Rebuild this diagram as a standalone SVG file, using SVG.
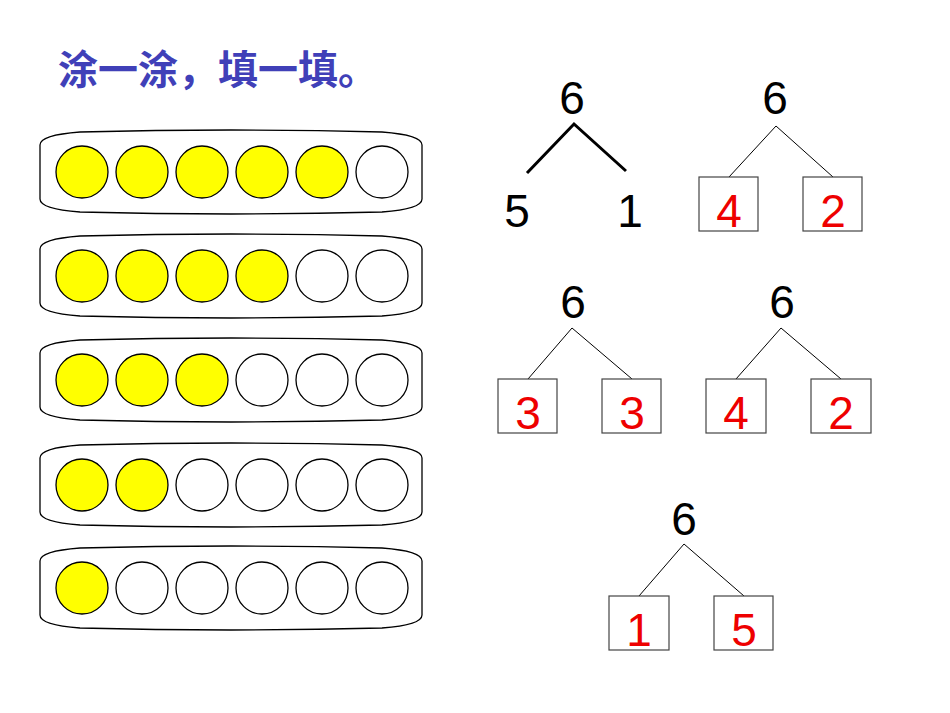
<svg xmlns="http://www.w3.org/2000/svg" width="950" height="713" viewBox="0 0 950 713">
<style>
.t{font-family:"Liberation Sans",Arial,sans-serif;font-size:46px;text-anchor:middle;fill:#000}
.r{fill:#ee0000}
.c{stroke:#000;stroke-width:1.3}
.y{fill:#ffff00}
.w{fill:#fff}
.box{fill:#fff;stroke:#444;stroke-width:1.2}
.ln{stroke:#000;stroke-width:1;fill:none}
.tray{fill:#fff;stroke:#000;stroke-width:1.3}
</style>
<defs>
<path id="tray" class="tray" d="M40,1 Q191,-3 342,1 Q382,4 382,14 L382,68 Q382,78 342,81 Q191,85 40,81 Q0,78 0,68 L0,14 Q0,4 40,1 Z"/>
</defs>
<rect width="950" height="713" fill="#fff"/>
<text x="58" y="84" font-family="'Noto Sans CJK SC',sans-serif" font-weight="bold" font-size="40" fill="#4040b8">涂一涂，填一填。</text>
<g id="row1" transform="translate(40,131)"><use href="#tray"/>
<circle class="c y" cx="42" cy="41" r="26"/><circle class="c y" cx="102" cy="41" r="26"/><circle class="c y" cx="162" cy="41" r="26"/><circle class="c y" cx="222" cy="41" r="26"/><circle class="c y" cx="282" cy="41" r="26"/><circle class="c w" cx="342" cy="41" r="26"/></g>
<g id="row2" transform="translate(40,235)"><use href="#tray"/>
<circle class="c y" cx="42" cy="41" r="26"/><circle class="c y" cx="102" cy="41" r="26"/><circle class="c y" cx="162" cy="41" r="26"/><circle class="c y" cx="222" cy="41" r="26"/><circle class="c w" cx="282" cy="41" r="26"/><circle class="c w" cx="342" cy="41" r="26"/></g>
<g id="row3" transform="translate(40,339)"><use href="#tray"/>
<circle class="c y" cx="42" cy="41" r="26"/><circle class="c y" cx="102" cy="41" r="26"/><circle class="c y" cx="162" cy="41" r="26"/><circle class="c w" cx="222" cy="41" r="26"/><circle class="c w" cx="282" cy="41" r="26"/><circle class="c w" cx="342" cy="41" r="26"/></g>
<g id="row4" transform="translate(40,444)"><use href="#tray"/>
<circle class="c y" cx="42" cy="41" r="26"/><circle class="c y" cx="102" cy="41" r="26"/><circle class="c w" cx="162" cy="41" r="26"/><circle class="c w" cx="222" cy="41" r="26"/><circle class="c w" cx="282" cy="41" r="26"/><circle class="c w" cx="342" cy="41" r="26"/></g>
<g id="row5" transform="translate(40,547)"><use href="#tray"/>
<circle class="c y" cx="42" cy="41" r="26"/><circle class="c w" cx="102" cy="41" r="26"/><circle class="c w" cx="162" cy="41" r="26"/><circle class="c w" cx="222" cy="41" r="26"/><circle class="c w" cx="282" cy="41" r="26"/><circle class="c w" cx="342" cy="41" r="26"/></g>
<g id="connectors">
<path d="M527,173 L574,124 L626,171" fill="none" stroke="#000" stroke-width="3"/>
<path class="ln" d="M729,177 L776,126 L833,177"/>
<path class="ln" d="M528,379 L572,328 L632,379"/>
<path class="ln" d="M736,379 L781,328 L841,379"/>
<path class="ln" d="M639,596 L684,544 L744,596"/>
</g>
<g id="tree1"><text class="t" x="572" y="114">6</text><text class="t" x="517" y="227">5</text><text class="t" x="630" y="227">1</text></g>
<g id="tree2"><text class="t" x="775" y="114">6</text>
<rect class="box" x="699" y="177" width="59" height="54"/><text class="t r" x="729" y="227">4</text>
<rect class="box" x="803" y="177" width="59" height="54"/><text class="t r" x="833" y="227">2</text></g>
<g id="tree3"><text class="t" x="573" y="318">6</text>
<rect class="box" x="498" y="379" width="59" height="54"/><text class="t r" x="528" y="429">3</text>
<rect class="box" x="602" y="379" width="59" height="54"/><text class="t r" x="632" y="429">3</text></g>
<g id="tree4"><text class="t" x="782" y="318">6</text>
<rect class="box" x="706" y="379" width="60" height="54"/><text class="t r" x="736" y="429">4</text>
<rect class="box" x="811" y="379" width="60" height="54"/><text class="t r" x="841" y="429">2</text></g>
<g id="tree5"><text class="t" x="684" y="535">6</text>
<rect class="box" x="609" y="596" width="60" height="54"/><text class="t r" x="639" y="646">1</text>
<rect class="box" x="714" y="596" width="59" height="54"/><text class="t r" x="744" y="646">5</text></g>
</svg>
